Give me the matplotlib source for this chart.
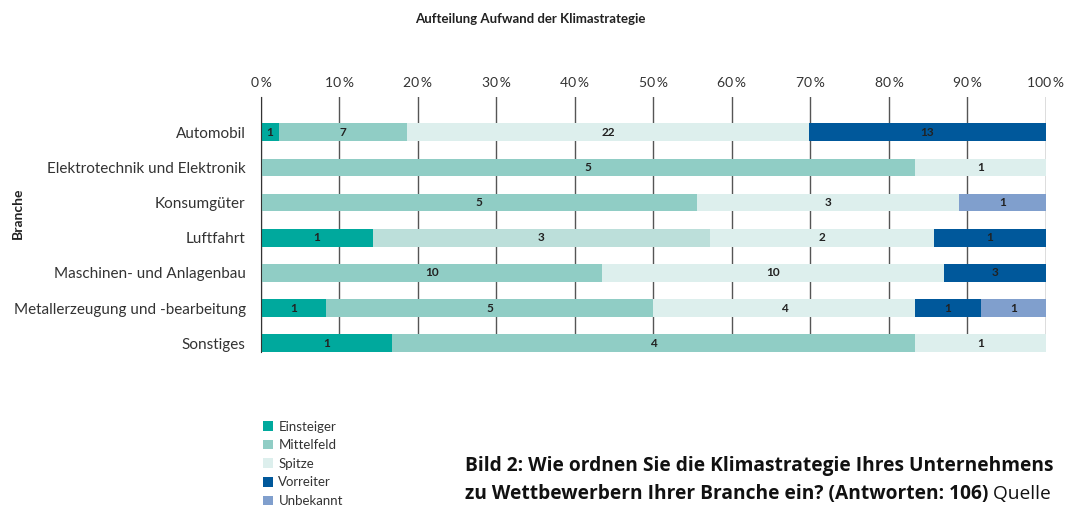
import numpy as np
import matplotlib.pyplot as plt
from matplotlib.patches import Patch

plt.rcParams['font.family'] = ['Lato', 'DejaVu Sans']

branchen = ["Automobil", "Elektrotechnik und Elektronik", "Konsumgüter", "Luftfahrt",
            "Maschinen- und Anlagenbau", "Metallerzeugung und -bearbeitung", "Sonstiges"]
gruppen = ["Einsteiger", "Mittelfeld", "Spitze", "Vorreiter", "Unbekannt"]
einsteiger = [1, 0, 0, 1, 0, 1, 1]
mittelfeld = [7, 5, 5, 3, 10, 5, 4]
spitze = [22, 1, 3, 2, 10, 4, 1]
vorreiter = [13, 0, 0, 1, 3, 1, 0]
unbekannt = [0, 0, 1, 0, 0, 1, 0]
farben = ["#00a99d", "#90cdc5", "#ddefed", "#00589b", "#809fcd"]
# Luftfahrt/Mittelfeld is shown a little lighter in the original
sonderfarbe = {(3, 1): "#bcdfda"}
ticks = np.arange(0, 101, 10)

werte = np.array([einsteiger, mittelfeld, spitze, vorreiter, unbekannt], dtype=float)
anteile = werte / werte.sum(axis=0) * 100

fig = plt.figure(figsize=(10.66, 5.09), dpi=100)
ax = fig.add_axes([0.2448, 0.3084, 0.7364, 0.501])

y = np.arange(len(branchen))
links = np.zeros(len(branchen))
for g in range(len(gruppen)):
    cols = [sonderfarbe.get((i, g), farben[g]) for i in range(len(branchen))]
    ax.barh(y, anteile[g], left=links, height=0.5, color=cols, zorder=3)
    for i in range(len(branchen)):
        if werte[g, i] > 0:
            ax.text(links[i] + anteile[g, i] / 2, y[i], "%d" % werte[g, i],
                    ha="center", va="center", fontsize=8.5, fontweight="bold",
                    color="#222222", zorder=4)
    links += anteile[g]

ax.set_xlim(0, 100)
ax.set_ylim(6.25, -1)
ax.set_yticks(y)
ax.set_yticklabels(branchen, fontsize=11, color="#333333")
ax.set_xticks(ticks)
ax.set_xticklabels(["%d\u2009%%" % t for t in ticks], fontsize=10, color="#333333")
ax.xaxis.tick_top()
ax.tick_params(axis="x", length=0, pad=6)
ax.tick_params(axis="y", length=0, pad=11)
ax.grid(axis="x", color="#555555", linewidth=1, zorder=1)
for s in ["top", "right", "bottom"]:
    ax.spines[s].set_visible(False)
ax.spines["left"].set_color("#333333")
ax.spines["left"].set_zorder(5)

fig.text(0.017, 0.582, "Branche", rotation=90, ha="center", va="center",
         fontsize=10, fontweight="bold", color="#222222")
fig.text(0.497, 0.962, "Aufteilung Aufwand der Klimastrategie", ha="center",
         va="center", fontsize=9.5, fontweight="bold", color="#222222")

handles = [Patch(facecolor=farben[g], edgecolor="none", label=gruppen[g])
           for g in range(len(gruppen))]
fig.legend(handles=handles, loc="upper left", bbox_to_anchor=(0.242, 0.184),
           frameon=False, fontsize=9.5, handlelength=0.75, handleheight=0.75,
           handletextpad=0.4, labelspacing=0.5, borderaxespad=0,
           labelcolor="#333333")

caption = dict(fontsize=13.8, family=["Open Sans", "DejaVu Sans"], color="#111111")
fig.text(0.436, 0.085, "Bild 2: Wie ordnen Sie die Klimastrategie Ihres Unternehmens",
         fontweight="bold", va="center", **caption)
t2 = fig.text(0.436, 0.03, "zu Wettbewerbern Ihrer Branche ein? (Antworten: 106)",
              fontweight="bold", va="center", **caption)
fig.text(0, 0, " Quelle", transform=t2.get_transform(), **caption)
fig.canvas.draw()
bb = t2.get_window_extent()
fig.texts[-1].set_position(fig.transFigure.inverted().transform((bb.x1, bb.y0 + bb.height / 2)))
fig.texts[-1].set_va("center")

fig.savefig("out.png", dpi=100)
